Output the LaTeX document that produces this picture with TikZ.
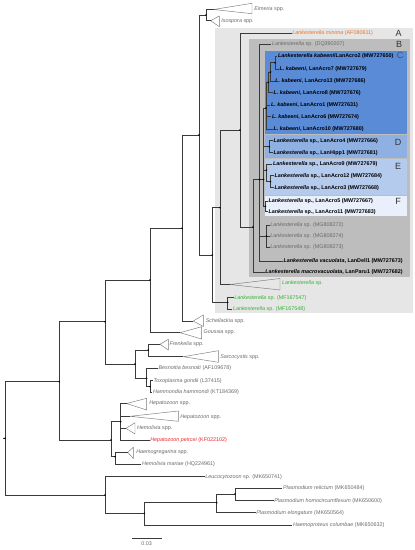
\documentclass[tikz,border=0pt]{standalone}
\usepackage{fontspec}
\setmainfont{Liberation Sans}
\definecolor{brc}{HTML}{3A3A3A}
\definecolor{tric}{HTML}{7A7A7A}
\definecolor{labc}{HTML}{6A6A6A}
\definecolor{letc}{HTML}{333333}
\definecolor{boxA}{HTML}{E6E6E6}
\definecolor{boxB}{HTML}{BDBDBD}
\definecolor{boxC}{HTML}{5A8BD6}
\definecolor{boxD}{HTML}{8FB0E3}
\definecolor{boxE}{HTML}{B5CBEE}
\definecolor{boxF}{HTML}{E9F0FB}
\definecolor{orng}{HTML}{E8762B}
\definecolor{grn}{HTML}{33B533}
\definecolor{rd}{HTML}{E8262B}
\begin{document}
\begin{tikzpicture}[x=1pt,y=-1pt,
  br/.style={draw=brc,line width=0.45pt},
  tri/.style={draw=tric,line width=0.45pt},
  lab/.style={anchor=west,inner sep=0.6pt,font=\fontsize{5.4}{6}\selectfont,text=labc},
  blab/.style={anchor=west,inner sep=0.6pt,font=\fontsize{5.4}{6}\selectfont\bfseries,text=black},
  boxlet/.style={font=\fontsize{9}{10}\selectfont,text=letc,inner sep=0pt},
  nd/.style={fill=black}]
\useasboundingbox (0,0) rectangle (415,550);
% clade boxes
\fill[boxA] (215,27.7) rectangle (413,313.3);
\fill[boxB] (249.3,39) rectangle (410,276.7);
\fill[boxC] (264.5,51) rectangle (407,134.3);
\fill[boxD] (264.5,135.3) rectangle (407,158.3);
\fill[boxE] (264.5,159.3) rectangle (407,195);
\fill[boxF] (264.5,196) rectangle (407,216.3);
\node[boxlet] (letA) at (398.5,33) {A};
\node[boxlet] (letB) at (399,44) {B};
\node[boxlet,text=boxC!60!black] (letC) at (400,55.5) {C};
\node[boxlet] (letD) at (398,142.7) {D};
\node[boxlet] (letE) at (398,166) {E};
\node[boxlet] (letF) at (398,201) {F};
% internal nodes
\coordinate (root) at (5,438.3);
\coordinate (rootstub) at (2.5,438.3);
\coordinate (n59) at (59.3,381.7);
\coordinate (n105) at (105,321.7);
\coordinate (n150) at (150,280);
\coordinate (n182) at (182,228.3);
\coordinate (n199) at (199,135);
\coordinate (nEI) at (206,15);
\coordinate (n212) at (212.3,255);
\coordinate (n220) at (220,207.7);
\coordinate (n240) at (240,130);
\coordinate (n253) at (253,227);
\coordinate (n260) at (259.5,179.5);
\coordinate (n264) at (263.5,179.5);
\coordinate (c1) at (275,62.7);
\coordinate (c2) at (270.5,72);
\coordinate (c3) at (268.5,82.3);
\coordinate (c4) at (266,108);
\coordinate (nD) at (269.3,146.7);
\coordinate (nE) at (266.5,170);
\coordinate (nE2) at (270.5,181.7);
\coordinate (nF) at (265.5,206.3);
\coordinate (nMG) at (266.5,236);
\coordinate (n227) at (227.7,302.3);
\coordinate (n135) at (135,364);
\coordinate (n148) at (148.3,350);
\coordinate (n147) at (146.7,378.3);
\coordinate (n150b) at (150,386.5);
\coordinate (n111) at (111,440);
\coordinate (n121) at (120.7,421.7);
\coordinate (n115) at (115,456.7);
\coordinate (n105b) at (105,495);
\coordinate (n144) at (144.3,513.3);
\coordinate (n217) at (216.7,502.7);
\coordinate (n235) at (235,494);
% collapsed clades (triangles)
\coordinate (tEim) at (213.5,9.5);
\coordinate (tIso) at (210.7,20.7);
\coordinate (tGrn) at (230,284.5);
\coordinate (tSch) at (193.3,321);
\coordinate (tGou) at (180,332.7);
\coordinate (tFre) at (160,344.3);
\coordinate (tSar) at (183.3,356.7);
\coordinate (tHep1) at (126.5,403.5);
\coordinate (tHep2) at (130,416.3);
\coordinate (tHem) at (126,428.3);
\coordinate (tHae) at (127.7,452.3);
\draw[tri] (tEim) -- (252,3.3) -- (252,13.7) -- cycle;
\draw[tri] (tIso) -- (219.3,16) -- (219.3,26.7) -- cycle;
\draw[tri] (tGrn) -- (280,278.5) -- (280,290) -- cycle;
\draw[tri] (tSch) -- (203.3,315) -- (203.3,326.5) -- cycle;
\draw[tri] (tGou) -- (201.7,326.7) -- (201.7,339) -- cycle;
\draw[tri] (tFre) -- (168.3,339.3) -- (168.3,350) -- cycle;
\draw[tri] (tSar) -- (218.3,350.7) -- (218.3,362.3) -- cycle;
\draw[tri] (tHep1) -- (146.7,398.3) -- (146.7,410) -- cycle;
\draw[tri] (tHep2) -- (178.3,411) -- (178.3,421.3) -- cycle;
\draw[tri] (tHem) -- (135,422.7) -- (135,434) -- cycle;
\draw[tri] (tHae) -- (133.3,447.3) -- (133.3,458.3) -- cycle;
% labels
\node[lab] (lEim) at (253.5,9) {\textit{Eimeria} spp.};
\node[lab] (lIso) at (220.5,21.5) {\textit{Isospora} spp.};
\node[lab,text=orng] (lMin) at (291.5,33.3) {\textit{Lankesterella minima} (AF080611)};
\node[lab] (lDQ) at (271.2,44.5) {\textit{Lankesterella} sp. (DQ390207)};
\node[blab] (l1) at (277.2,56) {\textit{Lankesterella kabeeni}/LanAcro2 (MW727650)};
\node[blab] (l2) at (278.8,69.3) {\textit{L. kabeeni}, LanAcro7 (MW727679)};
\node[blab] (l3) at (274.5,81.3) {\textit{L. kabeeni}, LanAcro13 (MW727686)};
\node[blab] (l4) at (272.8,92.7) {\textit{L. kabeeni}, LanAcro8 (MW727676)};
\node[blab] (l5) at (270.2,105) {\textit{L. kabeeni}, LanAcro1 (MW727631)};
\node[blab] (l6) at (271.2,116.7) {\textit{L. kabeeni}, LanAcro6 (MW727674)};
\node[blab] (l7) at (272.8,129) {\textit{L. kabeeni}, LanAcro10 (MW727680)};
\node[blab] (l8) at (272.8,140.7) {\textit{Lankesterella} sp., LanAcro4 (MW727666)};
\node[blab] (l9) at (272.8,152.7) {\textit{Lankesterella} sp., LanHipp1 (MW727681)};
\node[blab] (l10) at (272.2,164) {\textit{Lankesterella} sp., LanAcro9 (MW727679)};
\node[blab] (l11) at (273.8,175.7) {\textit{Lankesterella} sp., LanAcro12 (MW727684)};
\node[blab] (l12) at (273.8,187.7) {\textit{Lankesterella} sp., LanAcro3 (MW727668)};
\node[blab] (l13) at (267.8,201) {\textit{Lankesterella} sp., LanAcro5 (MW727667)};
\node[blab] (l14) at (267.8,211.7) {\textit{Lankesterella} sp., LanAcro11 (MW727683)};
\node[lab] (l15) at (269.5,225) {\textit{Lankesterella} sp. (MG808272)};
\node[lab] (l16) at (269.5,236) {\textit{Lankesterella} sp. (MG808274)};
\node[lab] (l17) at (269.5,247.3) {\textit{Lankesterella} sp. (MG808273)};
\node[blab] (l18) at (282.8,261) {\textit{Lankesterella vacuolata}, LanDell1 (MW727673)};
\node[blab] (l19) at (264.5,272.3) {\textit{Lankesterella macrovacuolata}, LanParu1 (MW727682)};
\node[lab,text=grn] (lG) at (281.2,283.5) {\textit{Lankesterella} sp.};
\node[lab,text=grn] (lG1) at (233.5,297.7) {\textit{Lankesterella} sp. (MF167547)};
\node[lab,text=grn] (lG2) at (232.2,309.3) {\textit{Lankesterella} sp. (MF167548)};
\node[lab] (lSch) at (205,321) {\textit{Schellackia} spp.};
\node[lab] (lGou) at (202.8,332.5) {\textit{Goussia} spp.};
\node[lab] (lFre) at (168.8,344.3) {\textit{Frenkelia} spp.};
\node[lab] (lSar) at (219.5,356.7) {\textit{Sarcocystis} spp.};
\node[lab] (lBes) at (157.8,368.3) {\textit{Besnoitia besnoiti} (AF109678)};
\node[lab] (lTox) at (152.8,380.7) {\textit{Toxoplasma gondii} (L37415)};
\node[lab] (lHam) at (152.2,392.3) {\textit{Hammondia hammondi} (KT184369)};
\node[lab] (lHep1) at (148.5,403.5) {\textit{Hepatozoon} spp.};
\node[lab] (lHep2) at (179.5,416.7) {\textit{Hepatozoon} spp.};
\node[lab] (lHem) at (136.2,428.3) {\textit{Hemolivia} spp.};
\node[lab,text=rd] (lPei) at (149.5,440) {\textit{Hepatozoon peircei} (KF022102)};
\node[lab] (lHae) at (135.5,452.3) {\textit{Haemogregarina} spp.};
\node[lab] (lMar) at (141.2,464) {\textit{Hemolivia mariae} (HQ224961)};
\node[lab] (lLeu) at (204.5,476.7) {\textit{Leucocytozoon} sp. (MK650741)};
\node[lab] (lRel) at (282.2,488.3) {\textit{Plasmodium relictum} (MK650484)};
\node[lab] (lHom) at (273.5,500.7) {\textit{Plasmodium homocircumflexum} (MK650600)};
\node[lab] (lElo) at (255.5,512.7) {\textit{Plasmodium elongatum} (MK650564)};
\node[lab] (lCol) at (292.2,525) {\textit{Haemoproteus columbae} (MK650632)};
% branches
\draw[br] (root) -- (rootstub);
\draw[br] (root) |- (n59);
\draw[br] (root) |- (n105b);
\draw[br] (n59) |- (n105);
\draw[br] (n59) |- (n111);
\draw[br] (n105) |- (n150);
\draw[br] (n105) |- (n135);
\draw[br] (n150) |- (n182);
\draw[br] (n150) |- (tGou);
\draw[br] (n182) |- (n199);
\draw[br] (n182) |- (tSch);
\draw[br] (n199) |- (nEI);
\draw[br] (n199) |- (n212);
\draw[br] (nEI) |- (tEim);
\draw[br] (nEI) |- (tIso);
\draw[br] (n212) |- (n220);
\draw[br] (n212) |- (n227);
\draw[br] (n220) |- (n240);
\draw[br] (n220) |- (tGrn);
\draw[br] (n240) |- (lMin.west);
\draw[br] (n240) |- (n253);
\draw[br] (n253) |- (n260);
\draw[br] (n253) |- (l19.west);
\draw[br] (n260) |- (lDQ.west);
\draw[br] (n260) -- (n264);
\draw[br] (n260) |- (nMG);
\draw[br] (n260) |- (l18.west);
\draw[br] (n264) |- (c4);
\draw[br] (n264) |- (nD);
\draw[br] (n264) |- (nE);
\draw[br] (n264) |- (nF);
\draw[br] (c4) |- (c3);
\draw[br] (c4) |- (l5.west);
\draw[br] (c4) |- (l6.west);
\draw[br] (c4) |- (l7.west);
\draw[br] (c3) |- (c2);
\draw[br] (c3) |- (l4.west);
\draw[br] (c2) |- (c1);
\draw[br] (c2) |- (l3.west);
\draw[br] (c1) |- (l1.west);
\draw[br] (c1) |- (l2.west);
\draw[br] (nD) |- (l8.west);
\draw[br] (nD) |- (l9.west);
\draw[br] (nE) |- (l10.west);
\draw[br] (nE) |- (nE2);
\draw[br] (nE2) |- (l11.west);
\draw[br] (nE2) |- (l12.west);
\draw[br] (nF) |- (l13.west);
\draw[br] (nF) |- (l14.west);
\draw[br] (nMG) |- (l15.west);
\draw[br] (nMG) -- (l16.west);
\draw[br] (nMG) |- (l17.west);
\draw[br] (n227) |- (lG1.west);
\draw[br] (n227) |- (lG2.west);
\draw[br] (n135) |- (n148);
\draw[br] (n135) |- (n147);
\draw[br] (n148) |- (tFre);
\draw[br] (n148) |- (tSar);
\draw[br] (n147) |- (lBes.west);
\draw[br] (n147) |- (n150b);
\draw[br] (n150b) |- (lTox.west);
\draw[br] (n150b) |- (lHam.west);
\draw[br] (n111) |- (n121);
\draw[br] (n111) |- (n115);
\draw[br] (n121) |- (tHep1);
\draw[br] (n121) |- (tHep2);
\draw[br] (n121) |- (tHem);
\draw[br] (n121) |- (lPei.west);
\draw[br] (n115) |- (tHae);
\draw[br] (n115) |- (lMar.west);
\draw[br] (n105b) |- (lLeu.west);
\draw[br] (n105b) |- (n144);
\draw[br] (n144) |- (n217);
\draw[br] (n144) |- (lCol.west);
\draw[br] (n217) |- (n235);
\draw[br] (n217) |- (lElo.west);
\draw[br] (n235) |- (lRel.west);
\draw[br] (n235) |- (lHom.west);
% node marks
\foreach \n in {root,n59,n105,n150,n182,n199,nEI,n212,n220,n240,n253,n260,n264,c1,c2,c3,c4,nD,nE,nE2,nF,nMG,n227,n135,n148,n147,n150b,n111,n121,n115,n105b,n144,n217,n235}
  \fill[nd] (\n) circle (0.85);
% scale bar
\coordinate (sb1) at (131.7,538.3);
\coordinate (sb2) at (161.7,538.3);
\draw[br] (sb1) -- (sb2);
\node[lab,anchor=center] (sbl) at (146.7,543.8) {0.03};
\end{tikzpicture}
\end{document}
